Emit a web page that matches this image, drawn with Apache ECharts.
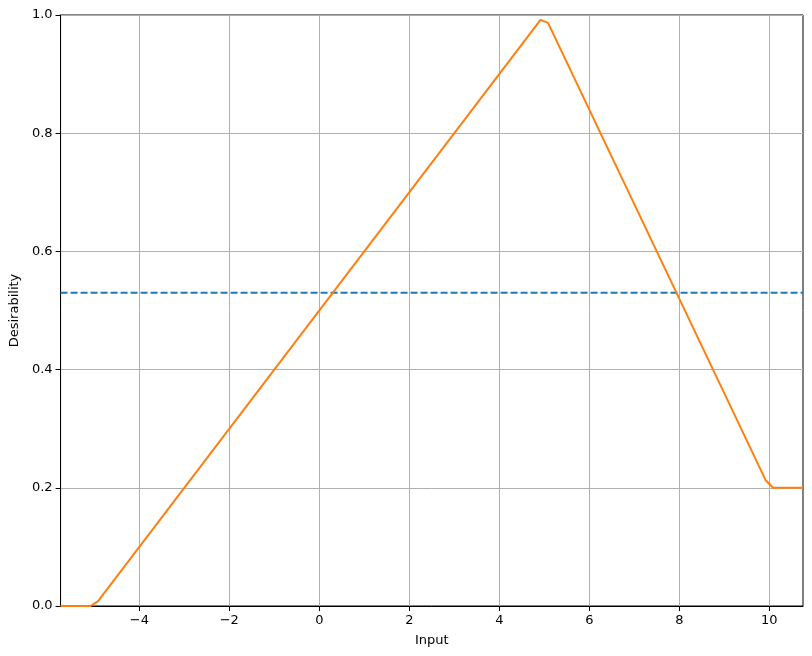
<!DOCTYPE html>
<html><head><meta charset="utf-8">
<script src="https://cdn.jsdelivr.net/npm/echarts@6/dist/echarts.min.js"></script>
<style>html,body{margin:0;padding:0;background:#fff}#c{width:812px;height:656px}</style>
</head><body><div id="c"></div>
<script>
const inputX = [-5.75, -5.0833, -4.9167, 4.9167, 5.0833, 9.9167, 10.0833, 10.75];
const desirability = [0, 0, 0.0083, 0.9917, 0.9867, 0.2133, 0.2, 0.2];
const threshold = 0.53;
const xTicks = [-4, -2, 0, 2, 4, 6, 8, 10];
const yTicks = [0, 0.2, 0.4, 0.6, 0.8, 1.0];
const xMin = -5.75, xMax = 10.75;

const chart = echarts.init(document.getElementById('c'));
const font = 'DejaVu Sans';
chart.setOption({
  animation: false,
  grid: {left: 58, right: 9, top: 15, bottom: 50, show: true, borderColor: '#000', borderWidth: 1},
  xAxis: {
    type: 'value', min: xMin, max: xMax,
    name: 'Input', nameLocation: 'middle', nameGap: 28,
    nameTextStyle: {fontFamily: font, fontSize: 13, color: '#000'},
    axisLine: {show: true, onZero: false, lineStyle: {color: '#000'}},
    axisTick: {show: true, customValues: xTicks, length: 5, inside: false, lineStyle: {color: '#000'}},
    axisLabel: {customValues: xTicks, fontFamily: font, fontSize: 13, color: '#000', margin: 8,
      formatter: v => String(v).replace('-', '\u2212')},
    splitLine: {show: true, lineStyle: {color: '#b0b0b0', width: 1}}
  },
  yAxis: {
    type: 'value', min: 0, max: 1, interval: 0.2,
    name: 'Desirability', nameLocation: 'middle', nameGap: 38, nameRotate: 90,
    nameTextStyle: {fontFamily: font, fontSize: 13, color: '#000'},
    axisLine: {show: true, onZero: false, lineStyle: {color: '#000'}},
    axisTick: {show: true, length: 5, lineStyle: {color: '#000'}},
    axisLabel: {fontFamily: font, fontSize: 13, color: '#000', margin: 8, formatter: v => v.toFixed(1)},
    splitLine: {show: true, lineStyle: {color: '#b0b0b0', width: 1}}
  },
  series: [
    {type: 'line', data: [[xMin, threshold], [xMax, threshold]], symbol: 'none',
      lineStyle: {color: '#1f77b4', width: 2, type: [7, 3]}},
    {type: 'line', data: inputX.map((x, i) => [x, desirability[i]]), symbol: 'none',
      lineStyle: {color: '#ff7f0e', width: 2}}
  ]
});
</script></body></html>
